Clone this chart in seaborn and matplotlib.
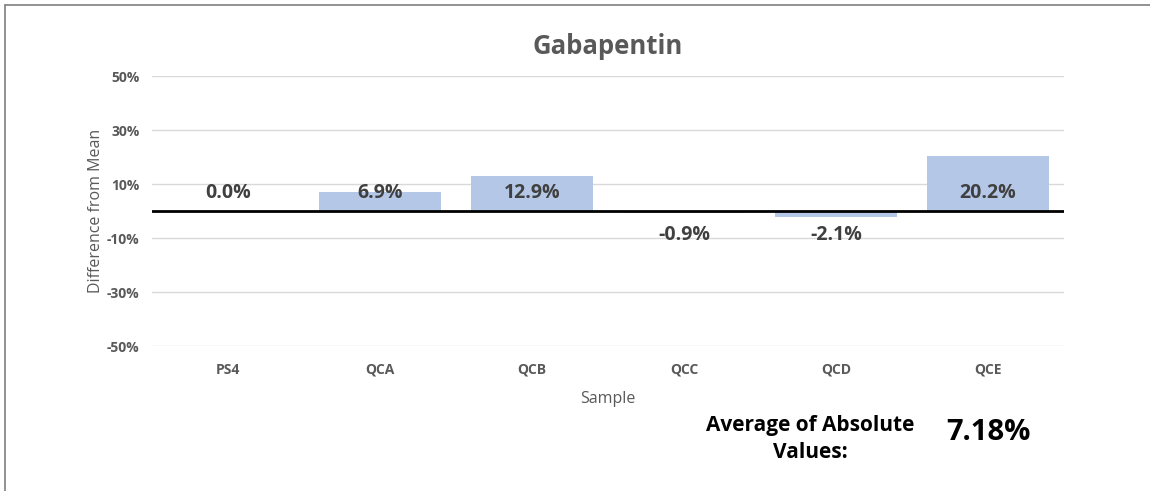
import matplotlib
matplotlib.use("Agg")
import matplotlib.pyplot as plt
from matplotlib.lines import Line2D
from matplotlib.ticker import FuncFormatter
import seaborn as sns
import pandas as pd

samples = ["PS4", "QCA", "QCB", "QCC", "QCD", "QCE"]
diff_pct = [0.0, 6.9, 12.9, -0.9, -2.1, 20.2]
avg_abs = "7.18%"

sns.set_theme(style="white")
plt.rcParams["font.family"] = ["Open Sans", "DejaVu Sans"]

df = pd.DataFrame({"Sample": samples, "Difference": diff_pct})

fig = plt.figure(figsize=(11.5, 4.91), dpi=100)
ax = fig.add_axes([152 / 1150, 1 - 346 / 491, 912 / 1150, 270 / 491])

sns.barplot(data=df, x="Sample", y="Difference", color="#B4C7E7", saturation=1,
            width=0.8, linewidth=0, ax=ax, zorder=2)

ax.set_ylim(-50, 50)
ax.set_yticks([-50, -30, -10, 10, 30, 50])
ax.yaxis.set_major_formatter(FuncFormatter(lambda v, _: f"{v:.0f}%"))
ax.grid(axis="y", color="#D9D9D9", linewidth=1, zorder=0)
ax.axhline(0, color="black", linewidth=2, zorder=3)
for s in ax.spines.values():
    s.set_visible(False)
ax.tick_params(axis="both", length=0, labelsize=10, labelcolor="#595959", pad=9)
ax.tick_params(axis="x", pad=12)
for lbl in ax.get_xticklabels() + ax.get_yticklabels():
    lbl.set_fontweight("bold")

ax.set_xlabel("Sample", fontsize=11.5, color="#595959", labelpad=10)
ax.set_ylabel("Difference from Mean", fontsize=11.5, color="#595959", labelpad=2)
ax.set_title("Gabapentin", fontsize=18.5, fontweight="bold", color="#595959", pad=16)

# data labels sit at a fixed offset above / below the zero line
for i, v in enumerate(diff_pct):
    ypos = 6.6 if v >= 0 else -8.8
    ax.text(i, ypos, f"{v:.1f}%", ha="center", va="center", fontsize=14,
            fontweight="bold", color="#404040", zorder=4)

fig.text(810 / 1150, 1 - 439 / 491, "Average of Absolute\nValues:", ha="center", va="center",
         fontsize=15, fontweight="bold", color="black", linespacing=1.4)
fig.text(988 / 1150, 1 - 432 / 491, avg_abs, ha="center", va="center",
         fontsize=21, fontweight="bold", color="black")

# outer chart frame (left and top edges)
fig.add_artist(Line2D([5 / 1150, 5 / 1150], [0, 1 - 5 / 491], transform=fig.transFigure,
                      color="#7F7F7F", linewidth=1.2))
fig.add_artist(Line2D([5 / 1150, 1], [1 - 5 / 491, 1 - 5 / 491], transform=fig.transFigure,
                      color="#7F7F7F", linewidth=1.2))

fig.savefig("out.png", dpi=100)
